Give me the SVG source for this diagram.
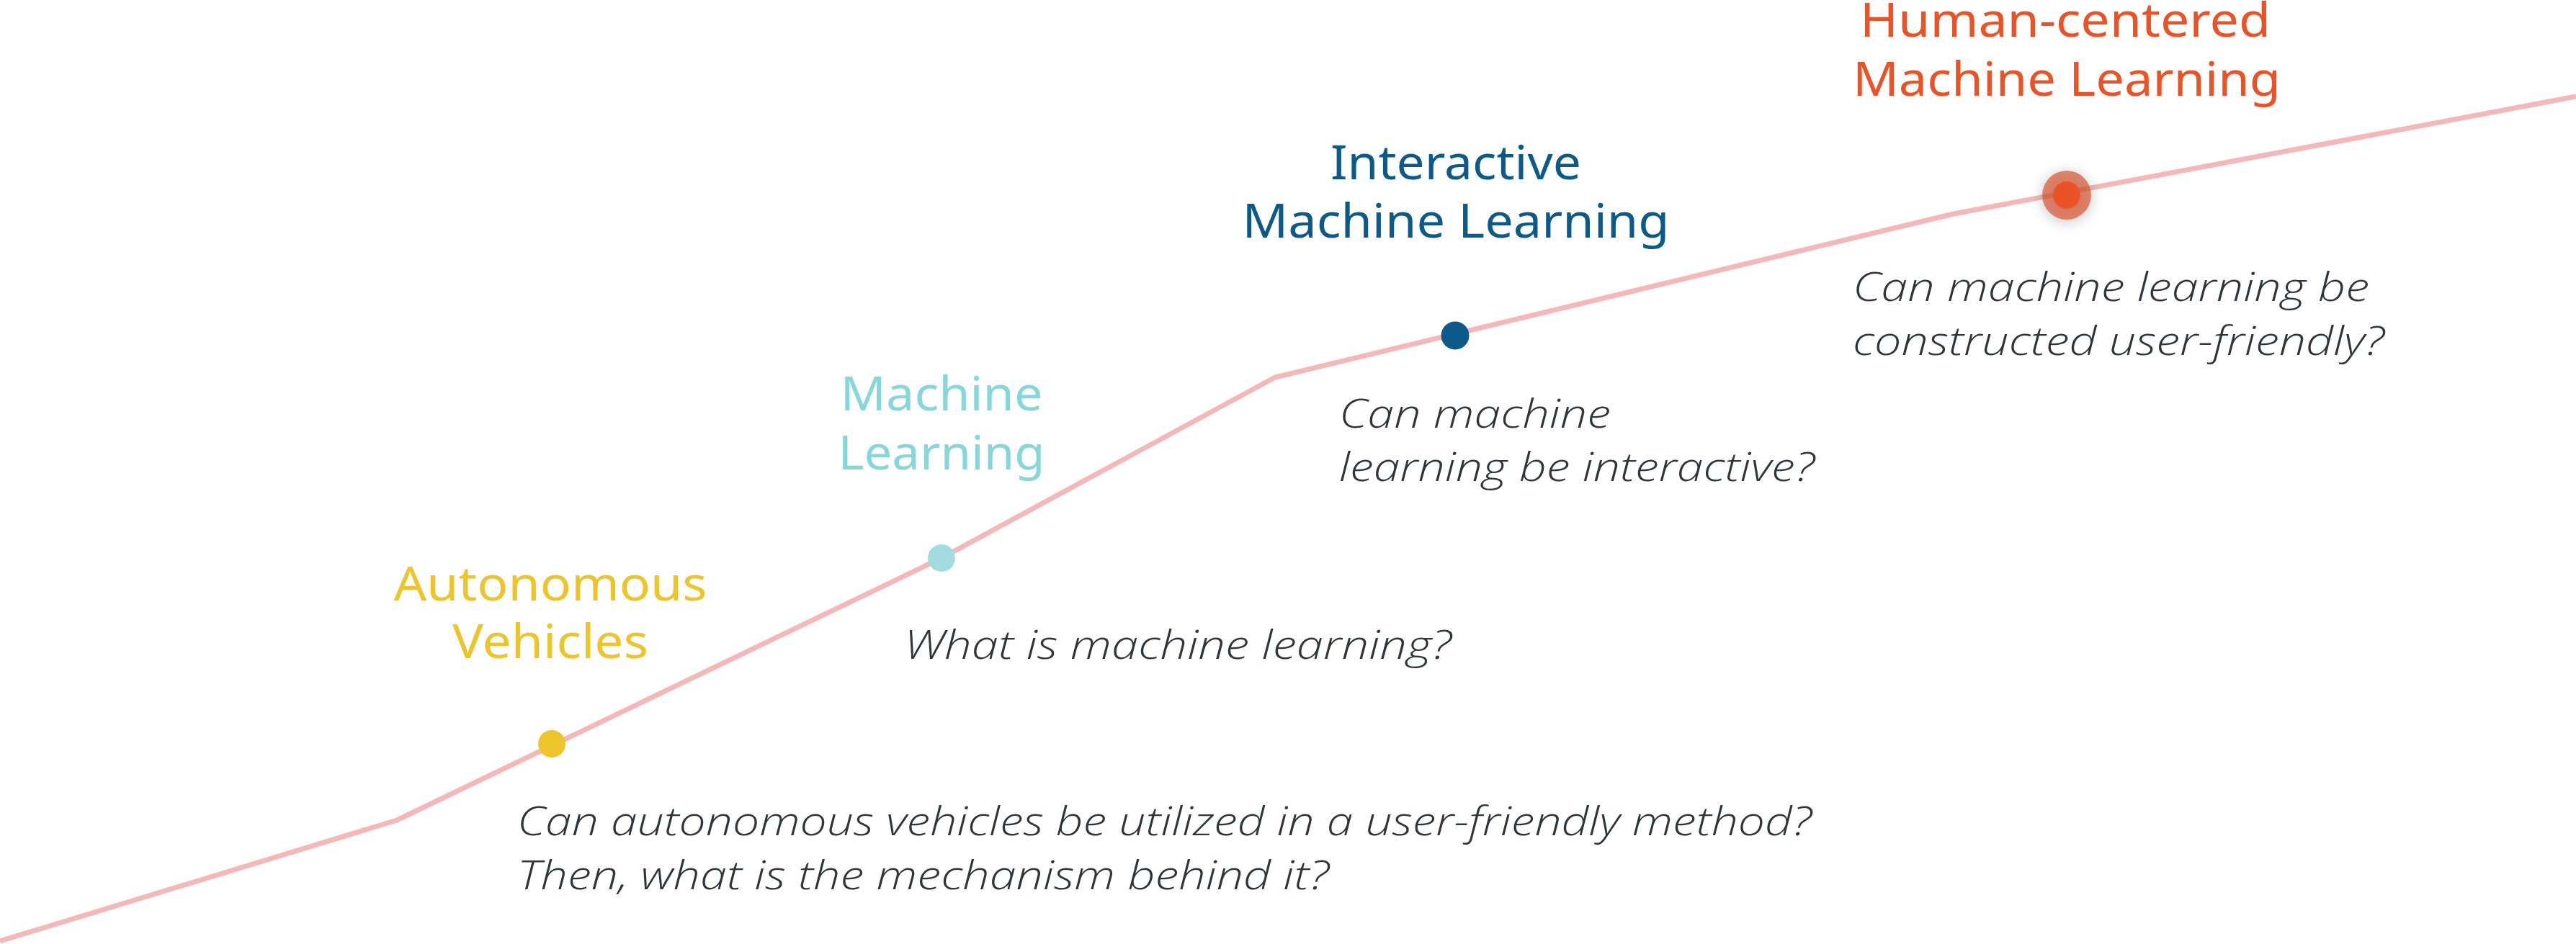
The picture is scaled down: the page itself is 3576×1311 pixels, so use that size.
<svg xmlns="http://www.w3.org/2000/svg" width="3576" height="1311" viewBox="0 0 3576 1311">
  <defs>
    <style>
      .title { font-family: "Noto Sans", "Open Sans", sans-serif; font-size: 66px; font-weight: 400; text-anchor: middle; }
      .q { font-family: "Open Sans", "Lato", sans-serif; font-size: 55px; font-weight: 300; font-style: italic; fill: #2E363B; }
      .dot { stroke: none; }
    </style>
    <filter id="glow" x="-100%" y="-100%" width="300%" height="300%">
      <feGaussianBlur stdDeviation="9"/>
    </filter>
  </defs>
  <rect width="3576" height="1311" fill="#FFFFFF"/>

  <g id="connectors">
    <polyline points="0,1307 551,1139 1307,775 1770,524 2712,297 3576,134" fill="none" stroke="#F4B8B8" stroke-width="7" stroke-linejoin="round"/>
  </g>

  <g id="node-autonomous">
    <circle class="dot" cx="766" cy="1033" r="19" fill="#EEC42B"/>
    <text class="title" fill="#EEC42B"><tspan x="764" y="834" textLength="435" lengthAdjust="spacingAndGlyphs">Autonomous</tspan><tspan x="764" y="914" textLength="272" lengthAdjust="spacingAndGlyphs">Vehicles</tspan></text>
    <text class="q"><tspan x="718" y="1160" textLength="1797" lengthAdjust="spacingAndGlyphs">Can autonomous vehicles be utilized in a user-friendly method?</tspan><tspan x="718" y="1235" textLength="1127" lengthAdjust="spacingAndGlyphs">Then, what is the mechanism behind it?</tspan></text>
  </g>

  <g id="node-ml">
    <circle class="dot" cx="1307" cy="775" r="19" fill="#A3DCDF"/>
    <text class="title" fill="#86D7DA"><tspan x="1307" y="570" textLength="281" lengthAdjust="spacingAndGlyphs">Machine</tspan><tspan x="1307" y="652" textLength="287" lengthAdjust="spacingAndGlyphs">Learning</tspan></text>
    <text class="q" x="1255" y="915" textLength="760" lengthAdjust="spacingAndGlyphs">What is machine learning?</text>
  </g>

  <g id="node-iml">
    <circle class="dot" cx="2020" cy="466" r="19.5" fill="#0B5A8A"/>
    <text class="title" fill="#0B5A8A"><tspan x="2021" y="249" textLength="348" lengthAdjust="spacingAndGlyphs">Interactive</tspan><tspan x="2021" y="330" textLength="593" lengthAdjust="spacingAndGlyphs">Machine Learning</tspan></text>
    <text class="q"><tspan x="1859" y="594" textLength="377" lengthAdjust="spacingAndGlyphs">Can machine</tspan><tspan x="1859" y="668" textLength="660" lengthAdjust="spacingAndGlyphs">learning be interactive?</tspan></text>
  </g>

  <g id="node-hcml">
    <circle cx="2869" cy="274" r="36" fill="#000000" opacity="0.18" filter="url(#glow)"/>
    <circle class="dot" cx="2869" cy="271" r="34" fill="#D9522E" opacity="0.68"/>
    <circle class="dot" cx="2869" cy="271" r="19" fill="#EB5226"/>
    <text class="title" fill="#EB5226"><tspan x="2867" y="51" textLength="570" lengthAdjust="spacingAndGlyphs">Human-centered</tspan><tspan x="2869" y="133" textLength="594" lengthAdjust="spacingAndGlyphs">Machine Learning</tspan></text>
    <text class="q"><tspan x="2572" y="418" textLength="717" lengthAdjust="spacingAndGlyphs">Can machine learning be</tspan><tspan x="2572" y="493" textLength="738" lengthAdjust="spacingAndGlyphs">constructed user-friendly?</tspan></text>
  </g>
</svg>
